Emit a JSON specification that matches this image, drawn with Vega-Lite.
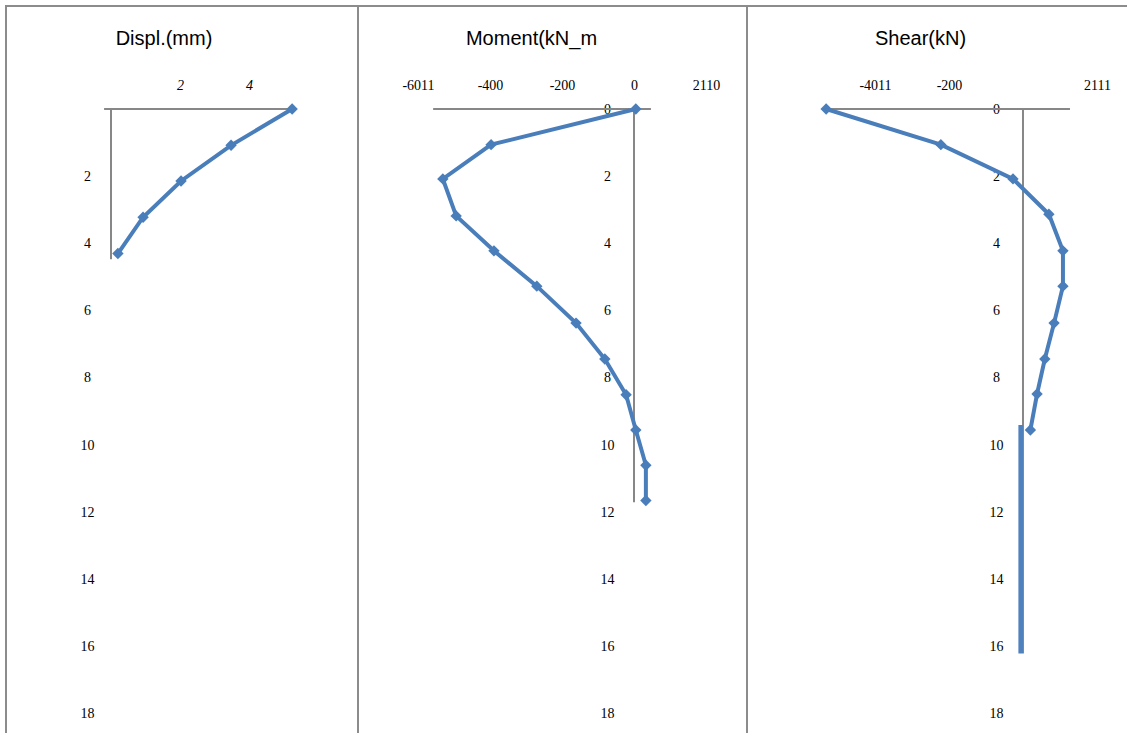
{
  "$schema": "https://vega.github.io/schema/vega-lite/v6.json",
  "background": "white",
  "padding": {"left": 5, "top": 5, "right": 0, "bottom": 0},
  "spacing": 0,
  "bounds": "flush",
  "config": {
    "view": {"stroke": "#8c8c8c", "strokeWidth": 2},
    "concat": {"spacing": 0},
    "title": {"font": "Liberation Sans", "fontSize": 20, "fontWeight": "normal", "color": "#000000", "anchor": "middle", "baseline": "middle"}
  },
  "datasets": {
    "displ": [
      {"depth": 0, "displ": 5.25},
      {"depth": 1.08, "displ": 3.48},
      {"depth": 2.14, "displ": 2.03},
      {"depth": 3.22, "displ": 0.93},
      {"depth": 4.3, "displ": 0.2}
    ],
    "moment": [
      {"depth": 0, "moment": 5},
      {"depth": 1.06, "moment": -397},
      {"depth": 2.08, "moment": -531},
      {"depth": 3.18, "moment": -494},
      {"depth": 4.22, "moment": -389},
      {"depth": 5.27, "moment": -270},
      {"depth": 6.37, "moment": -161},
      {"depth": 7.44, "moment": -81},
      {"depth": 8.5, "moment": -22},
      {"depth": 9.55, "moment": 5},
      {"depth": 10.6, "moment": 33},
      {"depth": 11.65, "moment": 33}
    ],
    "shear": [
      {"depth": 0, "shear": -532},
      {"depth": 1.06, "shear": -222},
      {"depth": 2.08, "shear": -27},
      {"depth": 3.13, "shear": 70},
      {"depth": 4.22, "shear": 108},
      {"depth": 5.27, "shear": 108},
      {"depth": 6.37, "shear": 84},
      {"depth": 7.44, "shear": 59},
      {"depth": 8.48, "shear": 38},
      {"depth": 9.55, "shear": 20}
    ],
    "shearTail": [
      {"depth": 9.4, "shear": -5},
      {"depth": 16.2, "shear": -5}
    ]
  },
  "hconcat": [
    {
      "width": 352,
      "height": 728,
      "title": {"text": "Displ.(mm)", "dx": -18, "offset": -43},
      "layer": [
        {
          "data": {"values": [{}]},
          "mark": {"type": "rule", "color": "#878787", "strokeWidth": 2},
          "encoding": {
            "x": {"datum": -0.2, "type": "quantitative"},
            "x2": {"datum": 5.3},
            "y": {"datum": 0, "type": "quantitative"}
          }
        },
        {
          "data": {"values": [{}]},
          "mark": {"type": "rule", "color": "#878787", "strokeWidth": 2},
          "encoding": {
            "x": {"datum": 0, "type": "quantitative"},
            "y": {"datum": 0, "type": "quantitative"},
            "y2": {"datum": 4.47}
          }
        },
        {
          "data": {"name": "displ"},
          "mark": {"type": "line", "color": "#4a7ebb", "strokeWidth": 4, "point": {"shape": "diamond", "size": 130, "filled": true, "color": "#4a7ebb", "opacity": 1}},
          "encoding": {
            "x": {"field": "displ", "type": "quantitative", "scale": {"domain": [-3.043, 7.159], "nice": false, "zero": false},
                  "axis": {"orient": "top", "values": [2, 4], "offset": -79, "title": null, "domain": false, "ticks": false, "grid": false,
                           "labelPadding": 0, "labelFont": "Liberation Serif", "labelFontSize": 14, "labelColor": "#000000",
                           "labelAlign": "center", "labelBaseline": "middle", "labelFlush": false, "labelOverlap": false, "labelFontStyle": "italic"}},
            "y": {"field": "depth", "type": "quantitative", "scale": {"domain": [-3.065, 18.596], "reverse": true, "nice": false, "zero": false},
                  "axis": {"orient": "left", "values": [2, 4, 6, 8, 10, 12, 14, 16, 18], "offset": -81, "title": null, "domain": false, "ticks": false, "grid": false,
                           "labelPadding": 0, "labelFont": "Liberation Serif", "labelFontSize": 14, "labelColor": "#000000",
                           "labelAlign": "center", "labelBaseline": "middle", "labelFlush": false, "labelOverlap": false}},
            "order": {"field": "depth"}
          }
        }
      ]
    },
    {
      "width": 389,
      "height": 728,
      "title": {"text": "Moment(kN_m", "dx": -21, "offset": -43},
      "layer": [
        {
          "data": {"values": [{}]},
          "mark": {"type": "rule", "color": "#878787", "strokeWidth": 2},
          "encoding": {
            "x": {"datum": -558, "type": "quantitative"},
            "x2": {"datum": 47},
            "y": {"datum": 0, "type": "quantitative"}
          }
        },
        {
          "data": {"values": [{}]},
          "mark": {"type": "rule", "color": "#878787", "strokeWidth": 2},
          "encoding": {
            "x": {"datum": 0, "type": "quantitative"},
            "y": {"datum": 0, "type": "quantitative"},
            "y2": {"datum": 11.7}
          }
        },
        {
          "data": {"name": "moment"},
          "mark": {"type": "line", "color": "#4a7ebb", "strokeWidth": 4, "point": {"shape": "diamond", "size": 130, "filled": true, "color": "#4a7ebb", "opacity": 1}},
          "encoding": {
            "x": {"field": "moment", "type": "quantitative", "scale": {"domain": [-766.7, 313.9], "nice": false, "zero": false},
                  "axis": {"orient": "top", "values": [-600, -400, -200, 0, 200], "offset": -79, "title": null, "domain": false, "ticks": false, "grid": false,
                           "labelPadding": 0, "labelFont": "Liberation Serif", "labelFontSize": 14, "labelColor": "#000000",
                           "labelAlign": "center", "labelBaseline": "middle", "labelFlush": false, "labelOverlap": false,
                           "labelExpr": "datum.value == -600 ? '-6011' : datum.value == 200 ? '2110' : '' + datum.value"}},
            "y": {"field": "depth", "type": "quantitative", "scale": {"domain": [-3.065, 18.596], "reverse": true, "nice": false, "zero": false},
                  "axis": {"orient": "left", "values": [0, 2, 4, 6, 8, 10, 12, 14, 16, 18], "offset": -249, "title": null, "domain": false, "ticks": false, "grid": false,
                           "labelPadding": 0, "labelFont": "Liberation Serif", "labelFontSize": 14, "labelColor": "#000000",
                           "labelAlign": "center", "labelBaseline": "middle", "labelFlush": false, "labelOverlap": false}},
            "order": {"field": "depth"}
          }
        }
      ]
    },
    {
      "width": 381,
      "height": 728,
      "title": {"text": "Shear(kN)", "dx": -17, "offset": -43},
      "layer": [
        {
          "data": {"values": [{}]},
          "mark": {"type": "rule", "color": "#878787", "strokeWidth": 2},
          "encoding": {
            "x": {"datum": -540, "type": "quantitative"},
            "x2": {"datum": 127},
            "y": {"datum": 0, "type": "quantitative"}
          }
        },
        {
          "data": {"values": [{}]},
          "mark": {"type": "rule", "color": "#878787", "strokeWidth": 2},
          "encoding": {
            "x": {"datum": 0, "type": "quantitative"},
            "y": {"datum": 0, "type": "quantitative"},
            "y2": {"datum": 9.4}
          }
        },
        {
          "data": {"name": "shear"},
          "mark": {"type": "line", "color": "#4a7ebb", "strokeWidth": 4, "point": {"shape": "diamond", "size": 130, "filled": true, "color": "#4a7ebb", "opacity": 1}},
          "encoding": {
            "x": {"field": "shear", "type": "quantitative", "scale": {"domain": [-745.9, 283.8], "nice": false, "zero": false},
                  "axis": {"orient": "top", "values": [-400, -200, 200], "offset": -79, "title": null, "domain": false, "ticks": false, "grid": false,
                           "labelPadding": 0, "labelFont": "Liberation Serif", "labelFontSize": 14, "labelColor": "#000000",
                           "labelAlign": "center", "labelBaseline": "middle", "labelFlush": false, "labelOverlap": false,
                           "labelExpr": "datum.value == -400 ? '-4011' : datum.value == 200 ? '2111' : '' + datum.value"}},
            "y": {"field": "depth", "type": "quantitative", "scale": {"domain": [-3.065, 18.596], "reverse": true, "nice": false, "zero": false},
                  "axis": {"orient": "left", "values": [0, 2, 4, 6, 8, 10, 12, 14, 16, 18], "offset": -249, "title": null, "domain": false, "ticks": false, "grid": false,
                           "labelPadding": 0, "labelFont": "Liberation Serif", "labelFontSize": 14, "labelColor": "#000000",
                           "labelAlign": "center", "labelBaseline": "middle", "labelFlush": false, "labelOverlap": false}},
            "order": {"field": "depth"}
          }
        },
        {
          "data": {"name": "shearTail"},
          "mark": {"type": "line", "color": "#4f81bd", "strokeWidth": 5.5, "strokeCap": "butt"},
          "encoding": {
            "x": {"field": "shear", "type": "quantitative"},
            "y": {"field": "depth", "type": "quantitative"}
          }
        }
      ]
    }
  ]
}
